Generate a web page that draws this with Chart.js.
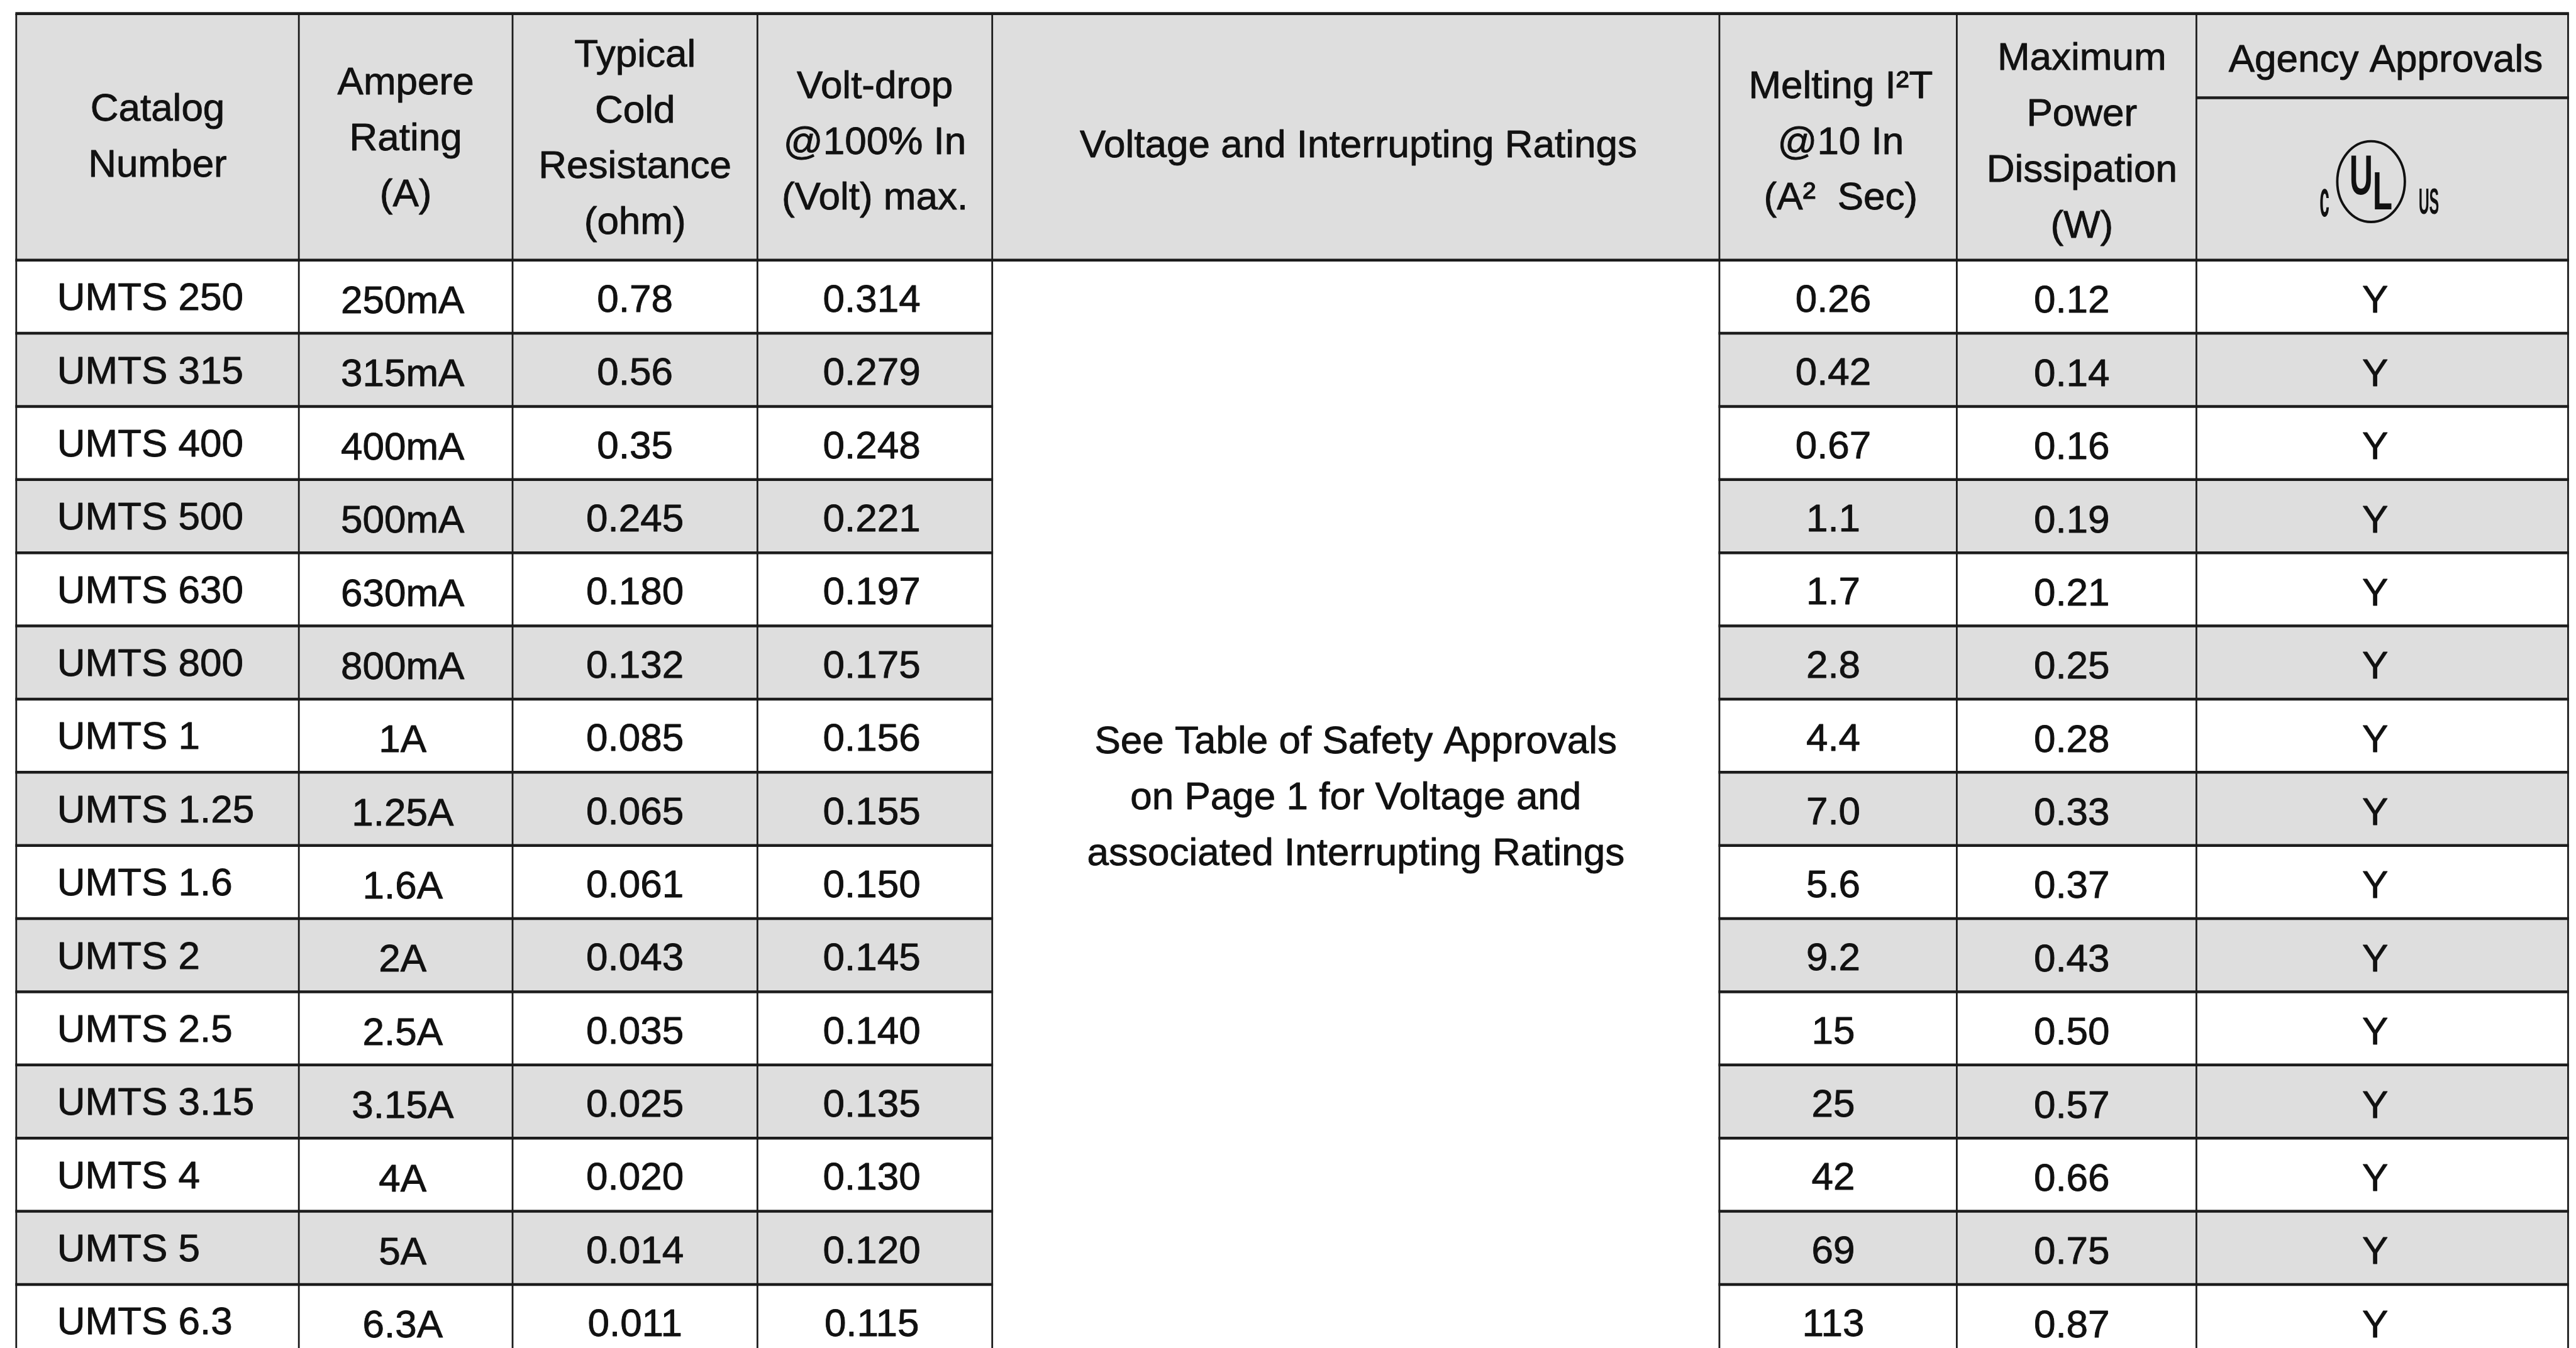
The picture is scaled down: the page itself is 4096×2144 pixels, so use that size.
<!DOCTYPE html>
<html><head><meta charset="utf-8">
<script src="https://cdn.jsdelivr.net/npm/chart.js@4.4.0/dist/chart.umd.min.js"></script>
<style>html,body{margin:0;padding:0;background:#fff;overflow:hidden}#wrap{width:4096px;height:2144px}</style>
</head><body><div id="wrap"><canvas id="c" width="4096" height="2144"></canvas></div>
<script>
// ---- data ----
const catalogNumbers = ["UMTS 250","UMTS 315","UMTS 400","UMTS 500","UMTS 630","UMTS 800","UMTS 1","UMTS 1.25","UMTS 1.6","UMTS 2","UMTS 2.5","UMTS 3.15","UMTS 4","UMTS 5","UMTS 6.3"];
const ampereRatings = ["250mA","315mA","400mA","500mA","630mA","800mA","1A","1.25A","1.6A","2A","2.5A","3.15A","4A","5A","6.3A"];
const coldResistance = ["0.78","0.56","0.35","0.245","0.180","0.132","0.085","0.065","0.061","0.043","0.035","0.025","0.020","0.014","0.011"];
const voltDrop = ["0.314","0.279","0.248","0.221","0.197","0.175","0.156","0.155","0.150","0.145","0.140","0.135","0.130","0.120","0.115"];
const meltingI2T = ["0.26","0.42","0.67","1.1","1.7","2.8","4.4","7.0","5.6","9.2","15","25","42","69","113"];
const powerDissipation = ["0.12","0.14","0.16","0.19","0.21","0.25","0.28","0.33","0.37","0.43","0.50","0.57","0.66","0.75","0.87"];
const agencyApprovals = ["Y","Y","Y","Y","Y","Y","Y","Y","Y","Y","Y","Y","Y","Y","Y"];
const headerLabels = [
  ["Catalog","Number"],
  ["Ampere","Rating","(A)"],
  ["Typical","Cold","Resistance","(ohm)"],
  ["Volt-drop","@100% In","(Volt) max."],
  ["Voltage and Interrupting Ratings"],
  ["Melting I\u00B2T","@10 In","(A\u00B2  Sec)"],
  ["Maximum","Power","Dissipation","(W)"],
  ["Agency Approvals"]
];
const mergedNote = ["See Table of Safety Approvals","on Page 1 for Voltage and","associated Interrupting Ratings"];
const ulMark = {c:"c", u:"U", l:"L", us:"US"};

// ---- layout (reference units) ----
const COLS = [37, 681, 1168, 1726, 2261, 3918, 4459, 5005, 5852];
const TOP = 31, HEAD_BOTTOM = 593, ROW_H = 166.8, AGENCY_SPLIT = 223, LINE_GAP = 127.3;
const MID = 4;
const HEAD_CY = [315, 318, 318, 326, 334, 326, 326, 139];
const HEAD_DX = [0, 0, 0, 0, 6, 6, 12, 8];
const BODY_DY = [6, 13, 10, 10, null, 10, 12, 12];
const BODY_DX = [0, -7, 0, -7, null, -11, -11, -16];
const FONT = '"Liberation Sans", Arial, Helvetica, sans-serif';

const tablePlugin = {
  id: 'tableDraw',
  beforeDatasetsDraw(chart) {
    const ctx = chart.ctx, xs = chart.scales.x, ys = chart.scales.y;
    const X = v => xs.getPixelForValue(v), Y = v => ys.getPixelForValue(v);
    const k = X(1) - X(0);
    const n = catalogNumbers.length;
    const bodyCols = [catalogNumbers, ampereRatings, coldResistance, voltDrop, null, meltingI2T, powerDissipation, agencyApprovals];
    const bottom = HEAD_BOTTOM + n * ROW_H;
    ctx.save();
    ctx.fillStyle = '#ffffff';
    ctx.fillRect(0, 0, chart.width, chart.height);
    // header background
    ctx.fillStyle = '#dedede';
    ctx.fillRect(X(COLS[0]), Y(TOP), X(COLS[8]) - X(COLS[0]), Y(HEAD_BOTTOM) - Y(TOP));
    // stripes
    for (let i = 1; i < n; i += 2) {
      const t = Y(HEAD_BOTTOM + i * ROW_H), b = Y(HEAD_BOTTOM + (i + 1) * ROW_H);
      ctx.fillRect(X(COLS[0]), t, X(COLS[MID]) - X(COLS[0]), b - t);
      ctx.fillRect(X(COLS[MID + 1]), t, X(COLS[8]) - X(COLS[MID + 1]), b - t);
    }
    // lines
    ctx.strokeStyle = '#1c1c1c';
    ctx.lineCap = 'butt';
    ctx.lineWidth = 4 * k;
    for (const c of COLS) {
      ctx.beginPath(); ctx.moveTo(X(c), Y(TOP)); ctx.lineTo(X(c), Y(bottom)); ctx.stroke();
    }
    ctx.lineWidth = 6.5 * k;
    const hline = (yv, a, b) => { ctx.beginPath(); ctx.moveTo(X(a) - 2 * k, Y(yv)); ctx.lineTo(X(b) + 2 * k, Y(yv)); ctx.stroke(); };
    hline(TOP, COLS[0], COLS[8]);
    hline(HEAD_BOTTOM, COLS[0], COLS[8]);
    hline(AGENCY_SPLIT, COLS[7], COLS[8]);
    for (let i = 1; i <= n; i++) {
      const yv = HEAD_BOTTOM + i * ROW_H;
      hline(yv, COLS[0], COLS[MID]);
      hline(yv, COLS[MID + 1], COLS[8]);
    }
    // text helper (slightly heavier strokes like the reference)
    ctx.fillStyle = '#111111';
    ctx.strokeStyle = '#111111';
    ctx.lineJoin = 'round';
    ctx.font = Math.round(89 * k) + 'px ' + FONT;
    ctx.textBaseline = 'middle';
    const txt = (s, px, py) => { ctx.lineWidth = 0.9; ctx.strokeText(s, px, py); ctx.fillText(s, px, py); };
    ctx.textAlign = 'center';
    headerLabels.forEach((lines, ci) => {
      const cx = (COLS[ci] + COLS[ci + 1]) / 2 + HEAD_DX[ci];
      const y0 = HEAD_CY[ci] - (lines.length - 1) * LINE_GAP / 2;
      lines.forEach((s, li) => txt(s, X(cx), Y(y0 + li * LINE_GAP)));
    });
    // body text
    bodyCols.forEach((arr, ci) => {
      if (!arr) return;
      const cx = (COLS[ci] + COLS[ci + 1]) / 2 + BODY_DX[ci];
      arr.forEach((s, ri) => {
        const cy = HEAD_BOTTOM + (ri + 0.5) * ROW_H + BODY_DY[ci];
        if (ci === 0) { ctx.textAlign = 'left'; txt(s, X(130), Y(cy)); }
        else { ctx.textAlign = 'center'; txt(s, X(cx), Y(cy)); }
      });
    });
    // merged note
    ctx.textAlign = 'center';
    const mcx = (COLS[MID] + COLS[MID + 1]) / 2;
    const mcy = 1820;
    mergedNote.forEach((s, li) => txt(s, X(mcx), Y(mcy + (li - 1) * LINE_GAP)));
    // UL mark
    ctx.lineWidth = 5.5 * k;
    ctx.beginPath();
    ctx.ellipse(X(5403), Y(414), 77 * k, 92 * k, 0, 0, Math.PI * 2);
    ctx.stroke();
    const fit = (t, x1, y1, x2, y2, capRatio) => {
      const hpx = Y(y2) - Y(y1);
      const fs = hpx / capRatio;
      ctx.font = 'bold ' + fs.toFixed(1) + 'px ' + FONT;
      ctx.textAlign = 'left'; ctx.textBaseline = 'alphabetic';
      const m = ctx.measureText(t);
      const w = m.actualBoundingBoxRight + m.actualBoundingBoxLeft;
      const sx = (X(x2) - X(x1)) / w;
      ctx.save();
      ctx.translate(X(x1), Y(y2));
      ctx.scale(sx, 1);
      ctx.fillText(t, m.actualBoundingBoxLeft, 0);
      ctx.restore();
    };
    fit(ulMark.u, 5358, 352, 5403, 443, 0.716);
    fit(ulMark.l, 5411, 390, 5450, 477, 0.716);
    fit(ulMark.c, 5287, 433, 5307, 493, 0.519);
    fit(ulMark.us, 5513, 430, 5557, 488, 0.716);
    ctx.restore();
  }
};

new Chart(document.getElementById('c'), {
  type: 'scatter',
  data: { datasets: [{ data: [], pointRadius: 0 }] },
  options: {
    responsive: false,
    animation: false,
    devicePixelRatio: 1,
    events: [],
    layout: { padding: 0 },
    plugins: { legend: { display: false }, tooltip: { enabled: false }, title: { display: false } },
    scales: {
      x: { type: 'linear', min: 0, max: 5870, display: false },
      y: { type: 'linear', min: 0, max: 3073, reverse: true, display: false }
    }
  },
  plugins: [tablePlugin]
});
</script>
</body></html>
